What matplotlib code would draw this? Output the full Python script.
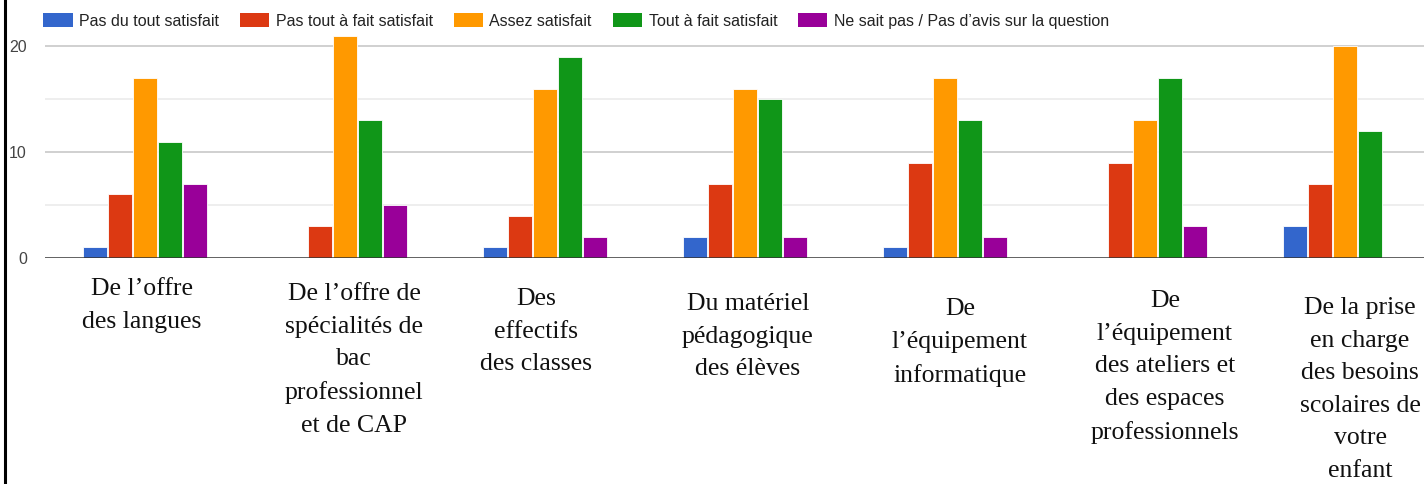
import matplotlib.pyplot as plt
import numpy as np
from matplotlib.patches import Patch
from matplotlib.lines import Line2D

# catégories (libellés sous les groupes)
categories = [
    "De l’offre\ndes langues",
    "De l’offre de\nspécialités de\nbac\nprofessionnel\net de CAP",
    "Des\neffectifs\ndes classes",
    "Du matériel\npédagogique\ndes élèves",
    "De\nl’équipement\ninformatique",
    "De\nl’équipement\ndes ateliers et\ndes espaces\nprofessionnels",
    "De la prise\nen charge\ndes besoins\nscolaires de\nvotre\nenfant",
]
series_names = [
    "Pas du tout satisfait",
    "Pas tout à fait satisfait",
    "Assez satisfait",
    "Tout à fait satisfait",
    "Ne sait pas / Pas d’avis sur la question",
]
pas_du_tout = [1, 0, 1, 2, 1, 0, 3]
pas_tout_a_fait = [6, 3, 4, 7, 9, 9, 7]
assez = [17, 21, 16, 16, 17, 13, 20]
tout_a_fait = [11, 13, 19, 15, 13, 17, 12]
ne_sait_pas = [7, 5, 2, 2, 2, 3, 0]

valeurs = [pas_du_tout, pas_tout_a_fait, assez, tout_a_fait, ne_sait_pas]
couleurs = ["#3366cc", "#dc3912", "#ff9900", "#109618", "#990099"]

W, H = 1424, 484
fig = plt.figure(figsize=(W / 100, H / 100), dpi=100)
# l'axe déborde à droite, comme dans la capture d'origine
ax = fig.add_axes([45 / W, 226 / H, 1400 / W, 233 / H])

x = np.arange(len(categories))
pas = 0.125
for j, (vals, c) in enumerate(zip(valeurs, couleurs)):
    ax.bar(x + (j - 2) * pas, vals, width=0.12, color=c,
           edgecolor="white", linewidth=0.6, zorder=3)

ax.set_xlim(-0.5, len(categories) - 0.5)
ax.set_ylim(0, 22)
for v in [5, 15]:
    ax.axhline(v, color="#ebebeb", lw=1.2, zorder=1)
for v in [10, 20]:
    ax.axhline(v, color="#d0d0d0", lw=1.4, zorder=1)
ax.axhline(0, color="#333333", lw=1.8, zorder=4)

ax.set_yticks([0, 10, 20])
ax.set_yticklabels(["0", "10", "20"], fontsize=11.5, color="#444444",
                   family="Liberation Sans")
ax.tick_params(axis="y", length=0, pad=13)
ax.set_xticks([])
for s in ax.spines.values():
    s.set_visible(False)

# libellés des catégories (police serif, posés sous chaque groupe)
dx_px = [-3, 9, -9, 3, 15, 20, 15]
top_px = [278, 283, 288, 293, 298, 290, 297]
for i, lab in enumerate(categories):
    xf = (45 + 100 + 200 * i + dx_px[i]) / W
    fig.text(xf, 1 - top_px[i] / H, lab, ha="center", va="top",
             fontsize=18.5, family="Liberation Serif", linespacing=1.62,
             color="#111111")

# légende
handles = [Patch(facecolor=c, edgecolor="none") for c in couleurs]
fig.legend(handles, series_names, loc="center left",
           bbox_to_anchor=(43 / W, 1 - 21 / H), ncol=5, frameon=False,
           prop={"family": "Liberation Sans", "size": 11.5},
           handlelength=1.85, handleheight=0.9, handletextpad=0.4,
           columnspacing=1.3, borderpad=0, borderaxespad=0,
           labelcolor="#222222")

# bordure noire à gauche
fig.add_artist(Line2D([5 / W, 5 / W], [0, 1], color="black", lw=2.2,
                      transform=fig.transFigure))

fig.savefig("out.png", dpi=100)
